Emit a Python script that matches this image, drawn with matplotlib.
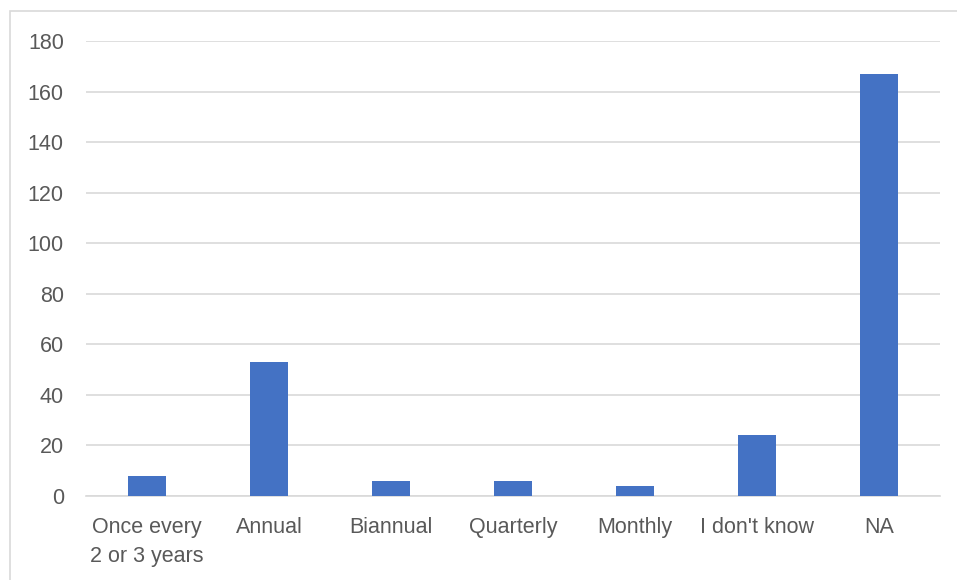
import matplotlib.pyplot as plt
from matplotlib.patches import Rectangle
import numpy as np

# survey answers: how often the review happens
categories = ["Once every\n2 or 3 years", "Annual", "Biannual", "Quarterly",
              "Monthly", "I don't know", "NA"]
counts = [8, 53, 6, 6, 4, 24, 167]
y_ticks = [0, 20, 40, 60, 80, 100, 120, 140, 160, 180]

BAR_COLOR = "#4472C4"
GRID_COLOR = "#D9D9D9"
TEXT_COLOR = "#595959"

plt.rcParams["font.family"] = ["Liberation Sans", "DejaVu Sans"]

fig = plt.figure(figsize=(9.57, 5.8), dpi=100)
ax = fig.add_axes([86 / 957, 84 / 580, 854 / 957, 455 / 580])

x = np.arange(len(categories))
ax.bar(x, counts, width=0.31, color=BAR_COLOR, zorder=3)

ax.set_xlim(-0.5, len(categories) - 0.5)
ax.set_ylim(0, 180)
ax.set_yticks(y_ticks)
ax.set_xticks(x)
ax.set_xticklabels(categories, linespacing=1.5)

ax.grid(axis="y", color=GRID_COLOR, lw=1.2, zorder=0)
for s in ["top", "right", "left"]:
    ax.spines[s].set_visible(False)
ax.spines["bottom"].set_color(GRID_COLOR)
ax.spines["bottom"].set_linewidth(1.2)

ax.tick_params(axis="both", length=0, labelsize=15.5, colors=TEXT_COLOR)
ax.tick_params(axis="y", pad=16)
ax.tick_params(axis="x", pad=15)

# chart area frame
frame = Rectangle((10 / 957, -0.1), 1.0, (580 - 11) / 580 + 0.1,
                  transform=fig.transFigure, fill=False,
                  edgecolor=GRID_COLOR, lw=1.2)
fig.patches.append(frame)

fig.savefig("out.png", dpi=100)
